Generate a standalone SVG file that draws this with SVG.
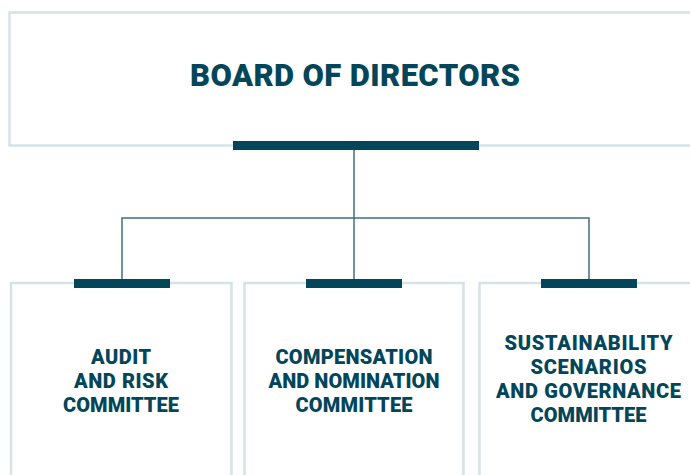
<svg xmlns="http://www.w3.org/2000/svg" width="690" height="475" viewBox="0 0 690 475">
  <style>
    .frame { fill: #ffffff; stroke: #d4e3e8; stroke-width: 2.5; }
    .bar { fill: #03465a; }
    .link { fill: none; stroke: #3f7080; stroke-width: 1.5; }
    .label { font-family: Roboto, "Liberation Sans", Arial, sans-serif; font-weight: 900; fill: #03465a; text-anchor: middle; }
    .title { font-size: 31px; }
    .sub { font-size: 20px; }
  </style>
  <rect width="690" height="475" fill="#ffffff"/>

  <!-- org chart connectors -->
  <g id="connectors">
    <path class="link" d="M354 150 V218 M122 279 V218 H589 V279 M354 218 V279"/>
  </g>

  <g id="board">
    <rect class="frame" x="9.5" y="12.5" width="700" height="133"/>
    <rect class="bar" x="233" y="141" width="246" height="9"/>
    <text class="label title" x="355" y="86" textLength="330">BOARD OF DIRECTORS</text>
  </g>

  <g id="audit">
    <rect class="frame" x="11" y="283" width="220.5" height="220"/>
    <rect class="bar" x="74" y="279" width="96" height="9"/>
    <text class="label sub" x="121" y="364" textLength="60">AUDIT</text>
    <text class="label sub" x="121" y="388" textLength="94">AND RISK</text>
    <text class="label sub" x="121" y="412" textLength="116">COMMITTEE</text>
  </g>

  <g id="compensation">
    <rect class="frame" x="244.5" y="283" width="219" height="220"/>
    <rect class="bar" x="306" y="279" width="96" height="9"/>
    <text class="label sub" x="354" y="364" textLength="157">COMPENSATION</text>
    <text class="label sub" x="354" y="388" textLength="171">AND NOMINATION</text>
    <text class="label sub" x="354" y="412" textLength="117">COMMITTEE</text>
  </g>

  <g id="sustainability">
    <rect class="frame" x="479.5" y="283" width="240" height="220"/>
    <rect class="bar" x="541" y="279" width="96" height="9"/>
    <text class="label sub" x="588.5" y="350" textLength="168">SUSTAINABILITY</text>
    <text class="label sub" x="588.5" y="374" textLength="116">SCENARIOS</text>
    <text class="label sub" x="588.5" y="398" textLength="185">AND GOVERNANCE</text>
    <text class="label sub" x="588.5" y="422" textLength="116">COMMITTEE</text>
  </g>
</svg>
